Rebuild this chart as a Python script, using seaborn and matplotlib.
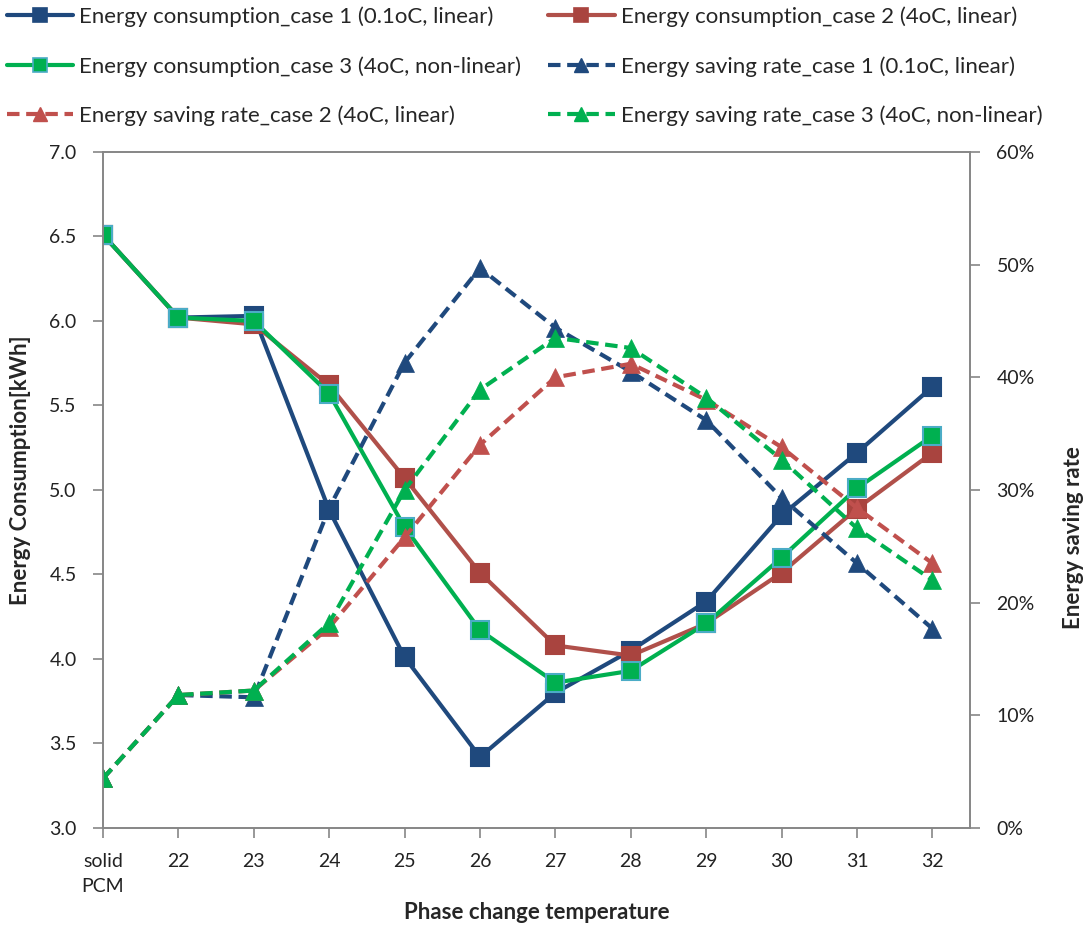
import numpy as np
import pandas as pd
import matplotlib
matplotlib.use("Agg")
import matplotlib.pyplot as plt
from matplotlib.lines import Line2D
from matplotlib.ticker import PercentFormatter, MultipleLocator, FormatStrFormatter
import seaborn as sns

categories = ["solid\nPCM", "22", "23", "24", "25", "26", "27", "28", "29", "30", "31", "32"]
cons_case1 = [6.51, 6.02, 6.03, 4.88, 4.01, 3.42, 3.80, 4.05, 4.34, 4.85, 5.22, 5.61]
cons_case2 = [6.51, 6.02, 5.98, 5.62, 5.07, 4.51, 4.08, 4.02, 4.21, 4.51, 4.89, 5.22]
cons_case3 = [6.51, 6.02, 6.00, 5.57, 4.78, 4.17, 3.86, 3.93, 4.21, 4.60, 5.01, 5.32]
save_case1 = [4.4, 11.8, 11.6, 28.4, 41.3, 49.7, 44.4, 40.5, 36.2, 29.3, 23.5, 17.7]
save_case2 = [4.4, 11.8, 12.2, 17.8, 25.8, 34.0, 40.0, 41.2, 38.0, 33.8, 28.4, 23.5]
save_case3 = [4.4, 11.8, 12.2, 18.2, 30.0, 38.9, 43.5, 42.6, 38.2, 32.7, 26.6, 22.0]

labels_cons = ["Energy consumption_case 1 (0.1oC, linear)",
               "Energy consumption_case 2 (4oC, linear)",
               "Energy consumption_case 3 (4oC, non-linear)"]
labels_save = ["Energy saving rate_case 1 (0.1oC, linear)",
               "Energy saving rate_case 2 (4oC, linear)",
               "Energy saving rate_case 3 (4oC, non-linear)"]

sns.set_theme(style="white")
plt.rcParams["font.family"] = ["Lato", "DejaVu Sans"]

BLUE = "#1F497D"
RED_SQ = "#A9443F"
RED_LINE = "#B0504A"
RED_TRI = "#C0504D"
GREEN = "#00B050"
GREEN_EDGE = "#4BACC6"
GRAY = "#868686"
DASH = (3, 1.6)

fig = plt.figure(figsize=(10.87, 9.30), dpi=100)
ax = fig.add_axes([0.0948, 0.1097, 0.7976, 0.7269])
ax2 = ax.twinx()

pos = np.arange(len(categories))

cons_styles = [
    (cons_case1, BLUE, BLUE, BLUE),
    (cons_case2, RED_LINE, RED_SQ, RED_SQ),
    (cons_case3, GREEN, GREEN, GREEN_EDGE),
]
proxies = []
for (vals, lc, mc, mec), lab in zip(cons_styles, labels_cons):
    df = pd.DataFrame({"x": pos, "y": vals})
    sns.lineplot(data=df, x="x", y="y", ax=ax, color=lc, linewidth=3.0,
                 marker="s", markersize=13, markerfacecolor=mc,
                 markeredgecolor=mec, markeredgewidth=1.5, legend=False)
    proxies.append(Line2D([], [], color=lc, linewidth=3.0, marker="s",
                          markersize=10, markerfacecolor=mc,
                          markeredgecolor=mec, markeredgewidth=1.2, label=lab))

save_styles = [(save_case1, BLUE), (save_case2, RED_TRI), (save_case3, GREEN)]
for (vals, c), lab in zip(save_styles, labels_save):
    df = pd.DataFrame({"x": pos, "y": np.array(vals) / 100.0})
    sns.lineplot(data=df, x="x", y="y", ax=ax2, color=c, linewidth=3.0,
                 marker="^", markersize=13, markerfacecolor=c,
                 markeredgecolor=c, markeredgewidth=0.5, legend=False)
    ax2.lines[-1].set_linestyle((0, DASH))
    proxies.append(Line2D([], [], color=c, linewidth=3.0, linestyle=(0, DASH),
                          marker="^", markersize=10, markerfacecolor=c,
                          markeredgecolor=c, label=lab))

ax.set_xlim(0, 11.5)
ax.set_ylim(3.0, 7.0)
ax.yaxis.set_major_locator(MultipleLocator(0.5))
ax.yaxis.set_major_formatter(FormatStrFormatter("%.1f"))
ax2.set_ylim(0, 0.6)
ax2.yaxis.set_major_locator(MultipleLocator(0.1))
ax2.yaxis.set_major_formatter(PercentFormatter(1.0, decimals=0))

ax.set_xticks(pos)
ax.set_xticklabels(categories, linespacing=1.6)

for a in (ax, ax2):
    for s in a.spines.values():
        s.set_color(GRAY)
        s.set_linewidth(1.2)
    a.tick_params(axis="both", colors=GRAY, labelcolor="#222222", labelsize=14,
                  length=7, width=1.2, direction="out")
ax.tick_params(axis="y", left=True, right=False, pad=12)
ax.tick_params(axis="x", bottom=True, pad=11)
ax2.tick_params(axis="y", right=True, left=False, pad=12)

ax.set_xlabel("Phase change temperature", fontsize=16, fontweight="bold")
ax.xaxis.set_label_coords(0.5, -0.109)
ax.set_ylabel("Energy Consumption[kWh]", fontsize=16, fontweight="bold")
ax.yaxis.set_label_coords(-0.083, 0.53)
ax2.set_ylabel("Energy saving rate", fontsize=16, fontweight="bold")
ax2.yaxis.set_label_coords(1.107, 0.43)

order = [proxies[0], proxies[2], proxies[4], proxies[1], proxies[3], proxies[5]]
fig.legend(handles=order, loc="upper left", bbox_to_anchor=(0.0, 1.0),
           ncol=2, frameon=False, fontsize=16, handlelength=3.0,
           handletextpad=0.27, columnspacing=1.2, labelspacing=1.3,
           borderaxespad=0.0, borderpad=0.3)

fig.savefig("out.png", dpi=100)
